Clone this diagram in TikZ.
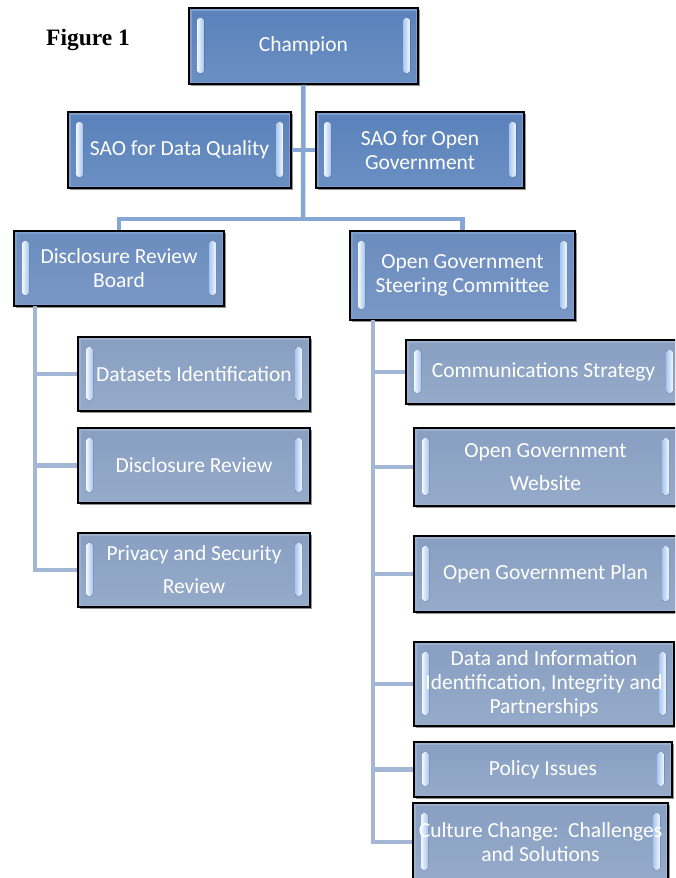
\documentclass[tikz,border=0pt]{standalone}
\usepackage{fontspec}
\setmainfont{Carlito}
\newfontfamily\figfont{Liberation Serif}
\usetikzlibrary{shadows}
\definecolor{rimc}{HTML}{7E9FCC}
\definecolor{rimleaf}{HTML}{9CB1CF}
\definecolor{topA}{HTML}{5A82BA}
\definecolor{topB}{HTML}{6A8FC3}
\definecolor{midA}{HTML}{6A8CBE}
\definecolor{midB}{HTML}{7A98C6}
\definecolor{leafA}{HTML}{889FC2}
\definecolor{leafB}{HTML}{96ABCA}
\definecolor{connA}{HTML}{86A6D6}
\definecolor{connB}{HTML}{A3B6D6}
\definecolor{bevL}{HTML}{F2F8FF}
\definecolor{bevR}{HTML}{A8C6F0}
\begin{document}
\begin{tikzpicture}[x=1pt,y=-1pt,
  obx/.style={draw=black, line width=1.6pt, text=white, align=center,
    font=\fontsize{21.5}{24}\selectfont, inner sep=0pt,
    drop shadow={shadow xshift=1.6pt, shadow yshift=-1.6pt, fill=black!60, opacity=.7},
    path picture={
      \draw[line width=5pt, draw=#1] (path picture bounding box.north west) rectangle (path picture bounding box.south east);
      \fill[left color=bevL, right color=bevR, rounded corners=2.5pt]
        ([xshift=8pt,yshift=-10pt]path picture bounding box.north west) rectangle
        ([xshift=15pt,yshift=11pt]path picture bounding box.south west);
      \fill[left color=bevR, right color=bevL, rounded corners=2.5pt]
        ([xshift=-15pt,yshift=-10pt]path picture bounding box.north east) rectangle
        ([xshift=-8pt,yshift=11pt]path picture bounding box.south east);
    }},
  topbox/.style={obx=rimc, top color=topA, bottom color=topB},
  midbox/.style={obx=rimc, top color=midA, bottom color=midB},
  leafbox/.style={obx=rimleaf, top color=leafA, bottom color=leafB},
  conn/.style={draw=connA, line width=4.5pt},
  leafconn/.style={draw=connB, line width=4.5pt}
]
\useasboundingbox (0,0) rectangle (675,878);
\clip (0,0) rectangle (675,878);

\node[font=\figfont\bfseries\fontsize{23.5}{26}\selectfont, anchor=base west, inner sep=0pt] (fig) at (46,45) {Figure 1};

\coordinate (bus) at (303,219);
\coordinate (lvtop) at (35,306);
\coordinate (rvtop) at (373,320);

% boxes
\node[topbox, minimum width=229pt, minimum height=76pt] (champ) at (303.5,46) {Champion};
\node[topbox, minimum width=223pt, minimum height=76pt] (saoq) at (179.5,150) {SAO for Data Quality};
\node[topbox, minimum width=208pt, minimum height=76pt] (saoo) at (420,150) {SAO for Open\\Government};
\node[midbox, minimum width=210pt, minimum height=75pt] (drb) at (119,268.5) {Disclosure Review\\Board};
\node[midbox, minimum width=225pt, minimum height=89pt] (ogsc) at (462.5,275.5) {Open Government\\Steering Committee};

\node[leafbox, minimum width=232pt, minimum height=74pt] (ds) at (194,374) {Datasets Identification};
\node[leafbox, minimum width=232pt, minimum height=75pt] (dr) at (194,465.5) {Disclosure Review};
\node[leafbox, minimum width=232pt, minimum height=74pt] (priv) at (194,570) {Privacy and Security\\[9pt]Review};

\node[leafbox, minimum width=275pt, minimum height=64pt] (cs) at (543.5,372) {Communications Strategy};
\node[leafbox, minimum width=263pt, minimum height=78pt] (ws) at (545.5,467) {Open Government\\[9pt]Website};
\node[leafbox, minimum width=263pt, minimum height=76pt] (plan) at (545.5,574) {Open Government Plan};
\node[leafbox, minimum width=260pt, minimum height=84pt] (data) at (544,684) {Data and Information\\Identification, Integrity and\\Partnerships};
\node[leafbox, minimum width=258pt, minimum height=55pt] (pol) at (543,769.5) {Policy Issues};
\node[leafbox, minimum width=255pt, minimum height=78pt] (cult) at (540.5,842) {Culture Change:\ \ Challenges\\and Solutions};

% top connectors
\draw[conn] (champ.south) -- (bus);
\draw[conn] (bus) -| (drb.north);
\draw[conn] (bus) -| (ogsc.north);
\draw[conn] (saoq.east) -- (saoo.west);

% left branch
\draw[leafconn] (lvtop) |- (priv.west);
\draw[leafconn] (lvtop |- ds.west) -- (ds.west);
\draw[leafconn] (lvtop |- dr.west) -- (dr.west);

% right branch
\draw[leafconn] (rvtop) |- (cult.west);
\draw[leafconn] (rvtop |- cs.west) -- (cs.west);
\draw[leafconn] (rvtop |- ws.west) -- (ws.west);
\draw[leafconn] (rvtop |- plan.west) -- (plan.west);
\draw[leafconn] (rvtop |- data.west) -- (data.west);
\draw[leafconn] (rvtop |- pol.west) -- (pol.west);
\end{tikzpicture}
\end{document}
